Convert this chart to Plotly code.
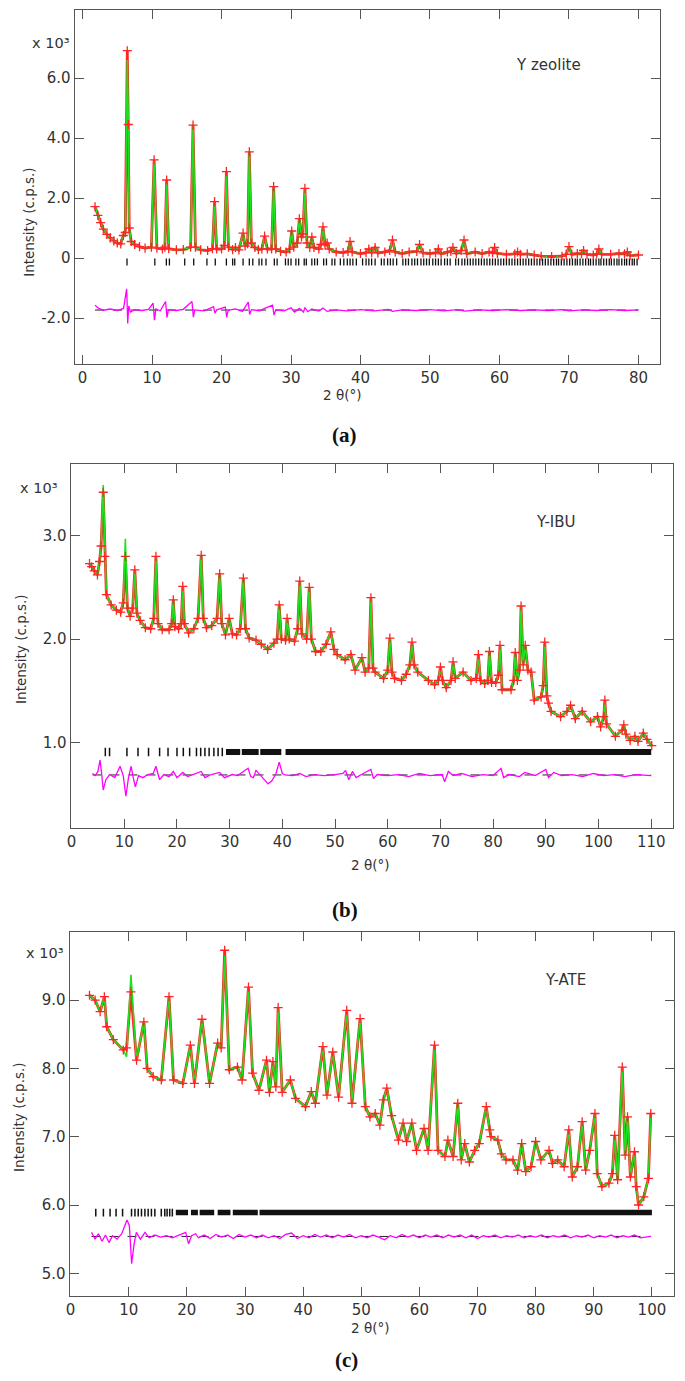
import plotly.graph_objects as go

W, H = 685, 1381
FONT = "DejaVu Sans"
TXT = "#333333"
FRAME = "#555555"
RED = "#ff2424"
GREEN = "#1fe01f"
MAGENTA = "#ff00ff"

# ---------------- Panel (a): Y zeolite (intensity in 10^3 c.p.s.) ----------------
a_obs_pts = [(1.8,1.71),(2.2,1.42),(2.6,1.18),(3.0,0.96),(3.5,0.79),(4.0,0.67),(4.5,0.57),(5.0,0.50),(5.5,0.47),
    (5.87,0.75),(6.15,0.85),(6.44,6.91),(6.58,4.45),(6.72,1.00),(7.0,0.55),(7.5,0.45),(8.2,0.38),(9.0,0.33),(9.9,0.36),
    (10.3,3.27),(10.7,0.33),(11.5,0.30),(11.85,0.36),(12.1,2.60),(12.4,0.31),(13.5,0.27),(14.5,0.28),(15.55,0.36),
    (15.9,4.43),(16.25,0.36),(17.0,0.27),(18.0,0.25),(18.7,0.31),(19.0,1.88),(19.3,0.30),(20.0,0.30),(20.4,0.42),
    (20.7,2.88),(21.0,0.36),(21.6,0.28),(22.0,0.35),(22.5,0.27),(23.1,0.83),(23.4,0.40),(23.75,0.48),(24.0,3.54),
    (24.3,0.50),(24.8,0.35),(25.3,0.28),(25.8,0.30),(26.2,0.73),(26.6,0.30),(27.2,0.30),(27.5,2.38),(27.8,0.30),
    (28.5,0.22),(29.3,0.20),(29.8,0.30),(30.1,0.90),(30.4,0.36),(30.9,0.50),(31.2,1.31),(31.5,0.70),(31.7,0.80),
    (32.0,2.32),(32.3,0.50),(32.7,0.35),(33.0,0.70),(33.3,0.35),(34.0,0.30),(34.3,0.45),(34.6,1.04),(34.9,0.45),
    (35.2,0.50),(35.5,0.30),(36.5,0.20),(37.5,0.18),(38.2,0.22),(38.5,0.55),(38.8,0.20),(40.0,0.15),(40.8,0.18),
    (41.2,0.30),(41.6,0.18),(42.1,0.35),(42.5,0.17),(43.5,0.20),(44.2,0.25),(44.6,0.60),(45.0,0.20),(46.0,0.15),
    (47.0,0.20),(48.1,0.22),(48.5,0.45),(49.0,0.17),(50.0,0.15),(50.8,0.18),(51.2,0.30),(51.6,0.14),(52.5,0.20),
    (53.0,0.22),(53.3,0.35),(53.8,0.15),(54.5,0.25),(54.9,0.60),(55.3,0.15),(56.5,0.20),(57.5,0.15),(58.5,0.20),
    (59.0,0.18),(59.3,0.35),(59.7,0.15),(61.0,0.12),(62.2,0.14),(62.6,0.20),(63.0,0.12),(64.0,0.14),(65.0,0.10),
    (66.0,0.06),(67.5,0.05),(69.0,0.06),(69.6,0.12),(70.0,0.38),(70.4,0.12),(71.2,0.15),(71.8,0.14),(72.1,0.25),
    (72.6,0.12),(73.5,0.10),(74.0,0.14),(74.3,0.30),(74.7,0.12),(76.0,0.12),(77.2,0.15),(78.0,0.14),(78.4,0.20),
    (78.8,0.08),(80.0,0.10)]
a_calc_changes = {6.44: 6.60, 6.58: 4.60}
a_diff_pts = [(1.8,-1.57),(2.3,-1.68),(3.0,-1.74),(4.0,-1.70),(5.0,-1.75),(5.9,-1.68),(6.35,-1.03),(6.5,-2.18),
    (6.65,-1.60),(6.9,-1.80),(7.5,-1.72),(8.5,-1.75),(9.5,-1.71),(10.15,-1.50),(10.35,-2.07),(10.55,-1.70),
    (11.2,-1.76),(11.95,-1.45),(12.15,-1.98),(12.35,-1.72),(13.5,-1.75),(14.5,-1.71),(15.75,-1.45),(15.95,-1.97),
    (16.15,-1.73),(17.5,-1.76),(18.85,-1.62),(19.05,-1.84),(19.3,-1.73),(20.55,-1.64),(20.75,-1.97),(20.95,-1.74),
    (22.0,-1.70),(23.0,-1.78),(23.85,-1.47),(24.05,-1.88),(24.3,-1.72),(25.5,-1.76),(26.2,-1.68),(27.35,-1.57),
    (27.55,-1.90),(27.8,-1.73),(29.0,-1.76),(30.0,-1.66),(30.5,-1.80),(31.2,-1.68),(31.8,-1.80),(32.0,-1.65),
    (32.4,-1.79),(33.0,-1.70),(34.0,-1.77),(34.6,-1.67),(35.2,-1.78),(36.5,-1.73),(38.0,-1.76),(40.0,-1.72),
    (42.0,-1.76),(44.0,-1.71),(44.6,-1.78),(46.0,-1.73),(48.0,-1.75),(50.0,-1.72),(52.0,-1.76),(54.0,-1.72),
    (55.0,-1.77),(57.0,-1.73),(59.0,-1.75),(61.0,-1.72),(63.0,-1.75),(65.0,-1.73),(67.0,-1.75),(69.0,-1.72),
    (70.0,-1.76),(72.0,-1.73),(74.0,-1.75),(76.0,-1.72),(78.0,-1.75),(80.0,-1.73)]
a_diff_zero = -1.735
a_bragg_level = -0.13
a_bragg = [6.4, 10.4, 12.06, 12.5, 14.7, 16.0, 17.9, 19.1, 20.7, 21.6, 21.9, 23.1, 24.0, 24.5, 25.4, 25.8, 26.4,
    27.6, 28.0, 29.2, 29.6, 30.0, 30.7, 31.1, 31.9, 32.2, 33.0, 33.4, 33.8, 34.7, 35.1, 35.9, 36.3, 37.1, 37.6,
    38.1, 38.5, 38.9, 39.4, 40.3, 40.8, 41.2, 41.6, 42.1, 43.0, 43.4, 43.9, 44.3, 44.7, 45.2, 46.1, 46.5, 46.9,
    47.4, 47.8, 48.2, 48.7, 49.1, 49.5, 49.9, 50.4, 50.8, 51.2, 51.6, 52.1, 52.5, 52.9, 53.7, 54.1, 54.6, 55.0,
    55.4, 55.8, 56.2, 56.6, 57.0, 57.4, 57.8, 58.2, 58.6, 59.0, 59.4, 59.8, 60.2, 60.6, 61.0, 61.4, 61.8, 62.2,
    62.6, 63.0, 63.4, 63.8, 64.2, 64.6, 65.0, 65.4, 65.8, 66.2, 66.6, 67.0, 67.4, 67.8, 68.2, 68.5, 68.9, 69.3,
    69.7, 70.1, 70.5, 70.9, 71.2, 71.6, 72.0, 72.4, 72.8, 73.1, 73.5, 73.9, 74.3, 74.6, 75.0, 75.4, 75.8, 76.1,
    76.5, 76.9, 77.2, 77.6, 78.0, 78.3, 78.7, 79.1, 79.4, 79.8]
a_bragg_bands = []

# ---------------- Panel (b): Y-IBU ----------------
b_obs_pts = [(3.4,2.73),(3.8,2.70),(4.3,2.66),(4.9,2.62),(5.3,2.75),(5.6,2.90),(6.0,3.42),(6.3,2.80),(6.6,2.43),
    (7.5,2.33),(8.5,2.28),(9.3,2.26),(9.8,2.35),(10.2,2.80),(10.6,2.30),(11.1,2.22),(11.6,2.30),(12.0,2.67),
    (12.4,2.25),(13.0,2.18),(14.0,2.11),(15.0,2.10),(15.6,2.20),(16.0,2.80),(16.4,2.15),(17.2,2.09),(18.5,2.09),
    (19.0,2.15),(19.3,2.38),(19.6,2.12),(20.3,2.10),(20.8,2.15),(21.1,2.51),(21.4,2.15),(22.2,2.06),(23.2,2.10),
    (24.0,2.20),(24.6,2.81),(25.0,2.20),(25.6,2.11),(26.6,2.13),(27.6,2.20),(28.1,2.63),(28.5,2.15),(29.2,2.04),
    (29.9,2.20),(30.5,2.05),(31.3,2.04),(32.0,2.10),(32.6,2.59),(33.0,2.10),(33.7,2.01),(35.0,1.99),(36.0,1.95),
    (37.2,1.90),(38.4,1.96),(39.0,2.00),(39.4,2.33),(39.8,2.00),(40.6,1.99),(40.9,2.20),(41.3,2.00),(42.3,1.98),
    (42.9,2.10),(43.3,2.56),(43.7,2.05),(44.6,2.00),(45.1,2.50),(45.5,2.00),(46.3,1.88),(47.3,1.88),(48.3,1.95),
    (49.2,2.07),(49.8,1.90),(50.4,1.85),(51.9,1.80),(53.0,1.85),(53.8,1.70),(55.1,1.82),(55.7,1.68),(56.4,1.72),
    (56.8,2.40),(57.2,1.72),(57.6,1.68),(59.2,1.62),(60.0,1.70),(60.4,2.01),(60.8,1.68),(61.3,1.62),(62.6,1.60),
    (63.5,1.66),(64.2,1.75),(64.6,1.97),(65.0,1.75),(65.7,1.68),(67.7,1.60),(68.9,1.56),(69.6,1.60),(70.0,1.73),
    (70.4,1.60),(71.1,1.53),(72.0,1.60),(72.4,1.78),(72.8,1.62),(74.3,1.68),(75.8,1.60),(76.8,1.62),(77.2,1.85),
    (77.6,1.60),(78.4,1.57),(79.0,1.60),(79.3,1.88),(79.7,1.58),(80.5,1.58),(81.0,1.65),(81.3,1.94),(81.7,1.51),
    (83.4,1.51),(83.9,1.60),(84.2,1.87),(84.6,1.60),(85.0,1.70),(85.3,2.32),(85.7,1.75),(86.1,1.94),(86.6,1.70),
    (87.2,1.68),(87.8,1.41),(89.1,1.44),(89.5,1.55),(89.8,1.97),(90.2,1.45),(90.5,1.38),(91.0,1.30),(92.8,1.25),
    (94.0,1.30),(94.7,1.36),(95.6,1.23),(96.9,1.30),(98.5,1.20),(99.8,1.25),(100.4,1.15),(101.0,1.25),(101.2,1.41),
    (101.5,1.18),(103.2,1.06),(104.5,1.12),(104.8,1.17),(105.2,1.08),(106.0,1.02),(106.9,1.06),(107.5,1.01),
    (108.5,1.09),(109.2,1.03),(110.1,0.97)]
b_calc_changes = {6.0: 3.49, 10.2: 2.97}
b_diff_pts = [(3.96,0.70),(4.5,0.68),(5.0,0.72),(5.4,0.83),(5.7,0.70),(6.0,0.54),(6.5,0.64),(7.2,0.69),(8.2,0.66),
    (8.8,0.72),(9.2,0.77),(9.8,0.68),(10.3,0.48),(10.8,0.66),(11.3,0.77),(11.7,0.66),(12.1,0.57),(12.7,0.68),
    (13.5,0.66),(14.5,0.69),(15.5,0.70),(16.0,0.77),(16.7,0.64),(17.5,0.69),(18.5,0.67),(19.3,0.72),(20.0,0.66),
    (21.1,0.71),(22.0,0.67),(23.0,0.69),(24.6,0.72),(25.3,0.66),(26.5,0.69),(28.1,0.71),(29.0,0.66),(30.5,0.69),
    (31.5,0.68),(32.6,0.72),(33.5,0.75),(34.0,0.67),(34.5,0.66),(35.0,0.73),(35.5,0.70),(36.5,0.64),(37.3,0.60),
    (38.0,0.63),(38.8,0.70),(39.4,0.81),(40.0,0.70),(40.5,0.686),(42.0,0.68),(43.3,0.70),(44.5,0.67),(46.0,0.69),
    (48.0,0.68),(50.0,0.69),(51.5,0.70),(52.0,0.73),(52.6,0.64),(53.3,0.72),(54.0,0.66),(55.0,0.69),(56.8,0.74),
    (57.3,0.65),(58.0,0.69),(60.0,0.68),(62.0,0.69),(64.0,0.67),(66.0,0.70),(68.0,0.68),(70.3,0.69),(70.8,0.62),
    (71.5,0.72),(72.4,0.68),(74.0,0.70),(76.0,0.67),(78.0,0.69),(80.0,0.68),(81.5,0.75),(82.0,0.66),(83.0,0.69),
    (85.0,0.67),(86.0,0.71),(88.0,0.68),(90.0,0.74),(90.5,0.66),(91.5,0.71),(93.0,0.68),(95.0,0.69),(97.0,0.67),
    (99.0,0.70),(101.0,0.68),(103.0,0.69),(105.0,0.67),(107.0,0.69),(110.0,0.68)]
b_diff_zero = 0.686
b_bragg_level = 0.908
b_bragg = [6.4, 7.2, 10.5, 12.6, 14.6, 16.7, 18.3, 20.0, 21.2, 22.4, 23.7, 24.5, 25.3, 26.1, 27.0, 27.8, 28.6]
b_bragg_bands = [(29.3, 32.0), (32.3, 35.5), (35.8, 39.8), (40.6, 110.0)]

# ---------------- Panel (c): Y-ATE ----------------
c_obs_pts = [(3.25,9.07),(4.22,9.00),(5.08,8.83),(5.81,9.05),(6.21,8.61),(7.35,8.42),(9.06,8.27),(9.63,8.30),
    (10.38,9.12),(11.34,8.12),(12.6,8.68),(13.17,8.00),(14.2,7.88),(15.6,7.83),(16.93,9.05),(17.7,7.83),(19.3,7.78),
    (20.6,8.34),(21.3,7.78),(22.6,8.72),(23.9,7.78),(25.3,8.37),(25.9,8.30),(26.5,9.73),(27.3,7.98),(28.7,8.02),
    (29.5,7.83),(30.6,9.19),(31.3,7.93),(32.4,7.68),(33.7,8.12),(34.2,7.65),(34.8,8.10),(35.3,7.73),(35.7,8.89),
    (36.4,7.65),(37.8,7.83),(38.7,7.56),(40.4,7.44),(41.4,7.66),(42.1,7.49),(43.4,8.32),(44.1,7.61),(45.1,8.24),
    (46.1,7.58),(47.5,8.85),(48.4,7.49),(49.8,8.73),(50.7,7.44),(51.5,7.29),(52.4,7.34),(53.2,7.17),(53.8,7.54),
    (54.4,7.71),(55.2,7.31),(56.4,6.95),(57.2,7.20),(57.8,6.93),(58.7,7.20),(59.5,6.80),(60.8,7.12),(61.5,6.80),
    (62.6,8.34),(63.2,6.80),(64.4,6.71),(64.9,6.95),(65.8,6.71),(66.6,7.49),(67.2,6.66),(67.8,6.90),(68.6,6.63),
    (69.5,6.80),(70.3,6.90),(71.5,7.44),(72.1,7.10),(72.3,7.00),(73.5,6.95),(74.1,6.75),(74.9,6.66),(76.1,6.66),
    (76.9,6.51),(77.6,6.90),(78.3,6.49),(79.2,6.56),(80.0,6.93),(80.9,6.66),(82.3,6.80),(82.9,6.61),(83.8,6.66),
    (84.9,6.56),(85.7,7.10),(86.3,6.41),(87.2,6.56),(88.0,7.22),(88.6,6.51),(89.3,6.80),(90.2,7.34),(90.6,6.46),
    (91.4,6.27),(92.6,6.32),(93.2,6.46),(93.6,7.02),(94.1,6.37),(94.9,8.02),(95.4,6.73),(95.8,7.29),(96.3,6.41),
    (97.0,6.78),(97.3,6.27),(97.7,6.00),(98.6,6.12),(99.4,6.39),(99.8,7.34)]
c_calc_changes = {9.63: 8.17, 10.38: 9.37, 26.5: 9.65}
c_diff_pts = [(3.6,5.60),(4.2,5.50),(4.8,5.58),(5.4,5.47),(6.0,5.56),(6.6,5.45),(7.2,5.55),(8.0,5.50),(8.8,5.58),
    (9.7,5.78),(10.1,5.70),(10.5,5.14),(10.9,5.42),(11.3,5.60),(12.0,5.50),(12.8,5.60),(13.5,5.52),(14.5,5.56),
    (15.5,5.53),(16.5,5.55),(17.5,5.52),(19.8,5.60),(20.3,5.43),(20.8,5.55),(21.5,5.58),(22.0,5.52),(23.0,5.56),
    (24.0,5.51),(25.0,5.57),(26.0,5.53),(27.0,5.56),(28.0,5.51),(29.0,5.57),(30.0,5.53),(31.0,5.56),(32.0,5.52),
    (33.0,5.56),(34.0,5.52),(35.0,5.55),(36.0,5.51),(37.0,5.57),(38.0,5.59),(39.0,5.51),(40.0,5.55),(41.0,5.52),
    (42.0,5.57),(43.0,5.53),(44.0,5.56),(45.0,5.52),(46.0,5.56),(47.0,5.53),(48.0,5.57),(49.0,5.52),(50.0,5.55),
    (51.0,5.52),(52.0,5.56),(53.0,5.53),(54.0,5.49),(55.0,5.55),(56.0,5.52),(57.0,5.57),(58.0,5.53),(59.0,5.56),
    (60.0,5.52),(61.0,5.56),(62.0,5.53),(63.0,5.56),(64.0,5.52),(65.0,5.56),(66.0,5.53),(67.0,5.56),(68.0,5.52),
    (69.0,5.56),(70.0,5.51),(71.0,5.55),(72.0,5.53),(73.0,5.56),(74.0,5.52),(75.0,5.55),(76.0,5.53),(77.0,5.56),
    (78.0,5.52),(79.0,5.55),(80.0,5.53),(81.0,5.56),(82.0,5.52),(83.0,5.55),(84.0,5.53),(85.0,5.56),(86.0,5.52),
    (87.0,5.55),(88.0,5.53),(89.0,5.56),(90.0,5.52),(91.0,5.55),(92.0,5.53),(93.0,5.56),(94.0,5.52),(95.0,5.55),
    (96.0,5.53),(97.0,5.56),(98.0,5.52),(99.8,5.54)]
c_diff_zero = 5.54
c_bragg_level = 5.89
c_bragg = [4.33, 5.64, 6.79, 7.82, 8.94, 10.48, 11.07, 11.63, 12.19, 12.78, 13.34, 13.9, 14.49, 15.6, 16.2, 16.6,
    17.05, 17.5]
c_bragg_bands = [(18.1, 20.2), (20.7, 21.9), (22.2, 24.7), (25.3, 27.5), (27.9, 32.2), (32.5, 100.0)]

# tick labels
a_yticks = [-2.0, 0.0, 2.0, 4.0, 6.0]
a_yticktext = ["-2.0", "0", "2.0", "4.0", "6.0"]
b_yticks = [1.0, 2.0, 3.0]
b_yticktext = ["1.0", "2.0", "3.0"]
c_yticks = [5.0, 6.0, 7.0, 8.0, 9.0]
c_yticktext = ["5.0", "6.0", "7.0", "8.0", "9.0"]
titles = ["Y zeolite", "Y-IBU", "Y-ATE"]
letters = ["a", "b", "c"]

# ---------------- layout geometry (pixels) ----------------
panels = [
    dict(name="a", l=71, r=660, t=10, b=364, xr=[-1.145, 83.12], yr=[-3.533, 8.267], bh=5, bw=1.3,
         obs=a_obs_pts, chg=a_calc_changes, diff=a_diff_pts, dz=a_diff_zero, bl=a_bragg_level,
         br=a_bragg, bands=a_bragg_bands, yt=a_yticks, ytt=a_yticktext,
         x103=(68, 43), title=(548, 65), xt=(340, 395), yl=(25, 222), let=(342, 435)),
    dict(name="b", l=67, r=673, t=464, b=828, xr=[-0.189, 114.15], yr=[0.173, 3.693], bh=6, bw=1.5,
         obs=b_obs_pts, chg=b_calc_changes, diff=b_diff_pts, dz=b_diff_zero, bl=b_bragg_level,
         br=b_bragg, bands=b_bragg_bands, yt=b_yticks, ytt=b_yticktext,
         x103=(56, 488), title=(555, 522), xt=(368, 865), yl=(17, 649), let=(343, 910)),
    dict(name="c", l=66, r=674, t=932, b=1296, xr=[-0.171, 103.81], yr=[4.668, 9.997], bh=5.5, bw=1.5,
         obs=c_obs_pts, chg=c_calc_changes, diff=c_diff_pts, dz=c_diff_zero, bl=c_bragg_level,
         br=c_bragg, bands=c_bragg_bands, yt=c_yticks, ytt=c_yticktext,
         x103=(62, 953), title=(565, 980), xt=(368, 1328), yl=(15, 1117), let=(345, 1360)),
]

fig = go.Figure()
annotations = []


def px(xp):
    return xp / W


def py(yp):
    return 1 - yp / H


for i, p in enumerate(panels):
    k = "" if i == 0 else str(i + 1)
    xa, ya = "x" + k, "y" + k
    ox = [q[0] for q in p["obs"]]
    oy = [q[1] for q in p["obs"]]
    cy = [p["chg"].get(q[0], q[1]) for q in p["obs"]]
    dx = [q[0] for q in p["diff"]]
    dy = [q[1] for q in p["diff"]]

    # zero line of the difference curve
    fig.add_trace(go.Scatter(x=[dx[0], dx[-1]], y=[p["dz"], p["dz"]], mode="lines",
                             line=dict(color="#222222", width=1, dash="dash"), xaxis=xa, yaxis=ya,
                             hoverinfo="skip"))
    # difference curve
    fig.add_trace(go.Scatter(x=dx, y=dy, mode="lines", line=dict(color=MAGENTA, width=1.3),
                             xaxis=xa, yaxis=ya))
    # Bragg reflections
    fig.add_trace(go.Scatter(x=p["br"], y=[p["bl"]] * len(p["br"]), mode="markers",
                             marker=dict(symbol="line-ns", size=p["bh"],
                                         line=dict(color="#111111", width=p["bw"])),
                             xaxis=xa, yaxis=ya))
    if p["bands"]:
        bx, by = [], []
        for s, e in p["bands"]:
            bx += [s, e, None]
            by += [p["bl"], p["bl"], None]
        fig.add_trace(go.Scatter(x=bx, y=by, mode="lines",
                                 line=dict(color="#111111", width=p["bh"]), xaxis=xa, yaxis=ya))
    # observed (red band) + calculated (green)
    fig.add_trace(go.Scatter(x=ox, y=oy, mode="lines", line=dict(color=RED, width=2.8),
                             xaxis=xa, yaxis=ya))
    fig.add_trace(go.Scatter(x=ox, y=cy, mode="lines", line=dict(color=GREEN, width=1.6),
                             xaxis=xa, yaxis=ya))
    fig.add_trace(go.Scatter(x=ox, y=oy, mode="markers",
                             marker=dict(symbol="cross-thin", size=6.5, line=dict(color=RED, width=1.3)),
                             xaxis=xa, yaxis=ya))

    common = dict(showline=True, linecolor=FRAME, linewidth=1.2, mirror="ticks", ticks="inside",
                  ticklen=9, tickwidth=1.2, tickcolor=FRAME, showgrid=False, zeroline=False,
                  tickfont=dict(family=FONT, size=15, color=TXT))
    fig.update_layout(**{
        "xaxis" + k: dict(domain=[px(p["l"]), px(p["r"])], range=p["xr"], anchor=ya,
                          tick0=0, dtick=10, **common),
        "yaxis" + k: dict(domain=[py(p["b"]), py(p["t"])], range=p["yr"], anchor=xa,
                          tickvals=p["yt"], ticktext=p["ytt"], **common),
    })

    annotations += [
        dict(x=px(p["x103"][0]), y=py(p["x103"][1]), text="x 10³", xanchor="right",
             yanchor="middle", font=dict(family=FONT, size=14.5, color=TXT)),
        dict(x=px(p["title"][0]), y=py(p["title"][1]), text=titles[i], xanchor="center",
             yanchor="middle", font=dict(family=FONT, size=15, color=TXT)),
        dict(x=px(p["xt"][0]), y=py(p["xt"][1]), text="2 θ(°)", xanchor="center",
             yanchor="middle", font=dict(family=FONT, size=13.5, color=TXT)),
        dict(x=px(p["yl"][0]), y=py(p["yl"][1]), text="Intensity (c.p.s.)", textangle=-90,
             xanchor="center", yanchor="middle", font=dict(family=FONT, size=13.5, color=TXT)),
        dict(x=px(p["let"][0]), y=py(p["let"][1]), text="(%s)" % letters[i], xanchor="center",
             yanchor="middle", font=dict(family="Liberation Serif", size=21, color="#111111",
                                         weight="bold")),
    ]

for a in annotations:
    a.update(xref="paper", yref="paper", showarrow=False)

fig.update_layout(width=W, height=H, autosize=False, margin=dict(l=0, r=0, t=0, b=0),
                  paper_bgcolor="white", plot_bgcolor="white", showlegend=False,
                  annotations=annotations)

fig.write_html("out.html")
